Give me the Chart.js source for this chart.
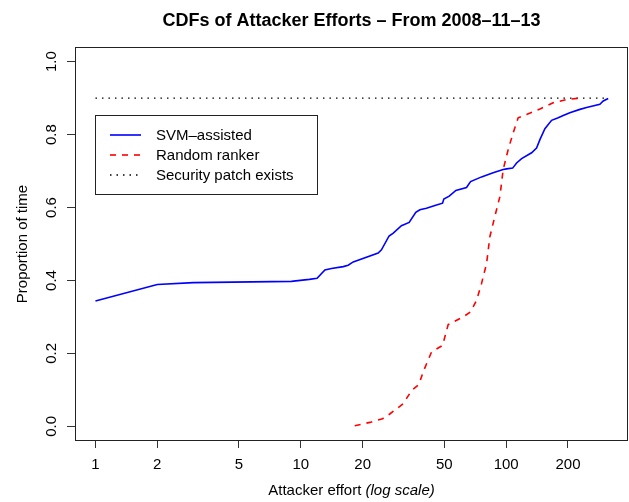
<!DOCTYPE html>
<html><head><meta charset="utf-8">
<script src="https://cdn.jsdelivr.net/npm/chart.js@4.4.1/dist/chart.umd.min.js"></script>
<style>html,body{margin:0;padding:0;background:#fff;}canvas{display:block;}</style>
</head><body>
<canvas id="c" width="629" height="502"></canvas>
<script>
const chartTitle = 'CDFs of Attacker Efforts \u2013 From 2008\u201311\u201313';
const xAxisTitle = 'Attacker effort ';
const xAxisTitleItalic = '(log scale)';
const yAxisTitle = 'Proportion of time';
const seriesLabels = ['SVM\u2013assisted', 'Random ranker', 'Security patch exists'];
const xTicks = [1, 2, 5, 10, 20, 50, 100, 200];
const yTicks = [0, 0.2, 0.4, 0.6, 0.8, 1.0];

const svmEffort = [1, 2, 3, 9, 11, 12, 13.1, 14.1, 16.1, 17, 18, 23.8, 24.7, 26.9, 28.2, 30.9, 33.7, 36.3, 38, 40.9, 45.8, 49, 49.7, 52.8, 56.9, 64.1, 67.1, 75.9, 86.4, 96.7, 100.5, 107.5, 112.4, 118.9, 133, 140.6, 146, 154.4, 166.4, 179.2, 189.6, 204.2, 228.6, 246.4, 285.9, 296.9, 314];
const svmProportion = [0.344, 0.389, 0.394, 0.3975, 0.403, 0.406, 0.429, 0.433, 0.438, 0.442, 0.451, 0.475, 0.484, 0.522, 0.530, 0.550, 0.559, 0.587, 0.594, 0.598, 0.607, 0.612, 0.623, 0.631, 0.647, 0.655, 0.671, 0.684, 0.695, 0.704, 0.706, 0.708, 0.722, 0.734, 0.750, 0.763, 0.786, 0.816, 0.839, 0.846, 0.852, 0.860, 0.869, 0.874, 0.883, 0.892, 0.899];

const randomEffort = [18.3, 21.7, 25.0, 27.1, 31.5, 34.6, 37.6, 39.4, 43.3, 49.0, 52.2, 61.7, 67.1, 71.8, 75.9, 80.3, 83.3, 88, 93.2, 96.7, 102.3, 108.2, 114.4, 125.7, 146, 169.4, 196.9, 228.6];
const randomProportion = [0.002, 0.011, 0.021, 0.034, 0.062, 0.098, 0.115, 0.149, 0.204, 0.222, 0.279, 0.300, 0.314, 0.346, 0.392, 0.447, 0.520, 0.575, 0.630, 0.704, 0.759, 0.805, 0.846, 0.855, 0.870, 0.887, 0.896, 0.900];

const patchEffort = [1, 314];
const patchProportion = [0.9, 0.9];

const xMin = 0.795, xMax = 392;
const yMin = -0.04, yMax = 1.04;

const FONT = '"Liberation Sans", Arial, Helvetica, sans-serif';
const seriesColors = ['#0000ff', '#ff0000', '#000000'];
const seriesDash = [[], [6, 6], [1.5, 5]];
const seriesWidth = [1.6, 1.6, 1.3];

const toPoints = (xs, ys) => xs.map((x, i) => ({x: x, y: ys[i]}));

const rFrame = {
  id: 'rFrame',
  afterDraw(chart) {
    const ctx = chart.ctx;
    const ca = chart.chartArea;
    ctx.save();
    ctx.strokeStyle = '#222';
    ctx.lineWidth = 1;
    ctx.setLineDash([]);
    ctx.strokeRect(Math.round(ca.left) + 0.5, Math.round(ca.top) + 0.5,
                   Math.round(ca.right - ca.left) - 1, Math.round(ca.bottom - ca.top) - 1);
    const cx = (ca.left + ca.right) / 2;
    ctx.fillStyle = '#000';
    ctx.font = 'bold 18px ' + FONT;
    ctx.textAlign = 'center';
    ctx.textBaseline = 'alphabetic';
    ctx.fillText(chartTitle, cx, 26);
    ctx.font = '15px ' + FONT;
    const w1 = ctx.measureText(xAxisTitle).width;
    ctx.font = 'italic 15px ' + FONT;
    const w2 = ctx.measureText(xAxisTitleItalic).width;
    const sx = cx - (w1 + w2) / 2;
    ctx.textAlign = 'left';
    ctx.font = '15px ' + FONT;
    ctx.fillText(xAxisTitle, sx, 495);
    ctx.font = 'italic 15px ' + FONT;
    ctx.fillText(xAxisTitleItalic, sx + w1, 495);
    ctx.save();
    ctx.translate(26.5, (ca.top + ca.bottom) / 2);
    ctx.rotate(-Math.PI / 2);
    ctx.font = '15px ' + FONT;
    ctx.textAlign = 'center';
    ctx.fillText(yAxisTitle, 0, 0);
    ctx.restore();
    const lx = 95.5, ly = 115.5, lw = 222, lh = 79;
    ctx.fillStyle = '#fff';
    ctx.fillRect(lx, ly, lw, lh);
    ctx.strokeStyle = '#222';
    ctx.lineWidth = 1;
    ctx.strokeRect(lx, ly, lw, lh);
    ctx.font = '15px ' + FONT;
    ctx.textAlign = 'left';
    ctx.textBaseline = 'middle';
    chart.data.datasets.forEach((ds, i) => {
      const yy = 135 + i * 20;
      ctx.strokeStyle = ds.borderColor;
      ctx.lineWidth = ds.borderWidth;
      ctx.setLineDash(ds.borderDash || []);
      ctx.beginPath();
      ctx.moveTo(110, yy);
      ctx.lineTo(141, yy);
      ctx.stroke();
      ctx.setLineDash([]);
      ctx.fillStyle = '#000';
      ctx.fillText(ds.label, 156, yy + 1);
    });
    ctx.restore();
  }
};

new Chart(document.getElementById('c'), {
  type: 'line',
  data: {
    datasets: [
      {label: seriesLabels[0], data: toPoints(svmEffort, svmProportion), borderColor: seriesColors[0], borderWidth: seriesWidth[0], borderDash: seriesDash[0]},
      {label: seriesLabels[1], data: toPoints(randomEffort, randomProportion), borderColor: seriesColors[1], borderWidth: seriesWidth[1], borderDash: seriesDash[1]},
      {label: seriesLabels[2], data: toPoints(patchEffort, patchProportion), borderColor: seriesColors[2], borderWidth: seriesWidth[2], borderDash: seriesDash[2]}
    ]
  },
  options: {
    responsive: false,
    animation: false,
    devicePixelRatio: 1,
    layout: {padding: {top: 47, right: 1, bottom: 0, left: 0}},
    elements: {point: {radius: 0, hoverRadius: 0}, line: {tension: 0, fill: false}},
    plugins: {legend: {display: false}, title: {display: false}, tooltip: {enabled: false}},
    events: [],
    scales: {
      x: {
        type: 'logarithmic', position: 'bottom', min: xMin, max: xMax,
        afterBuildTicks: s => { s.ticks = xTicks.map(v => ({value: v})); },
        afterFit: s => { s.height = 61; },
        ticks: {autoSkip: false, maxRotation: 0, minRotation: 0, padding: 8, color: '#000',
                font: {family: FONT, size: 15}, callback: v => String(v)},
        grid: {display: true, drawOnChartArea: false, drawTicks: true, tickLength: 7, color: '#333', lineWidth: 1},
        border: {display: false}
      },
      y: {
        type: 'linear', position: 'left', min: yMin, max: yMax,
        afterBuildTicks: s => { s.ticks = yTicks.map(v => ({value: v})); },
        afterFit: s => { s.width = 75; },
        ticks: {minRotation: 90, maxRotation: 90, crossAlign: 'center', padding: 5, color: '#000',
                font: {family: FONT, size: 15}, callback: v => Number(v).toFixed(1)},
        grid: {display: true, drawOnChartArea: false, drawTicks: true, tickLength: 8, color: '#333', lineWidth: 1},
        border: {display: false}
      }
    }
  },
  plugins: [rFrame]
});
</script>
</body></html>
